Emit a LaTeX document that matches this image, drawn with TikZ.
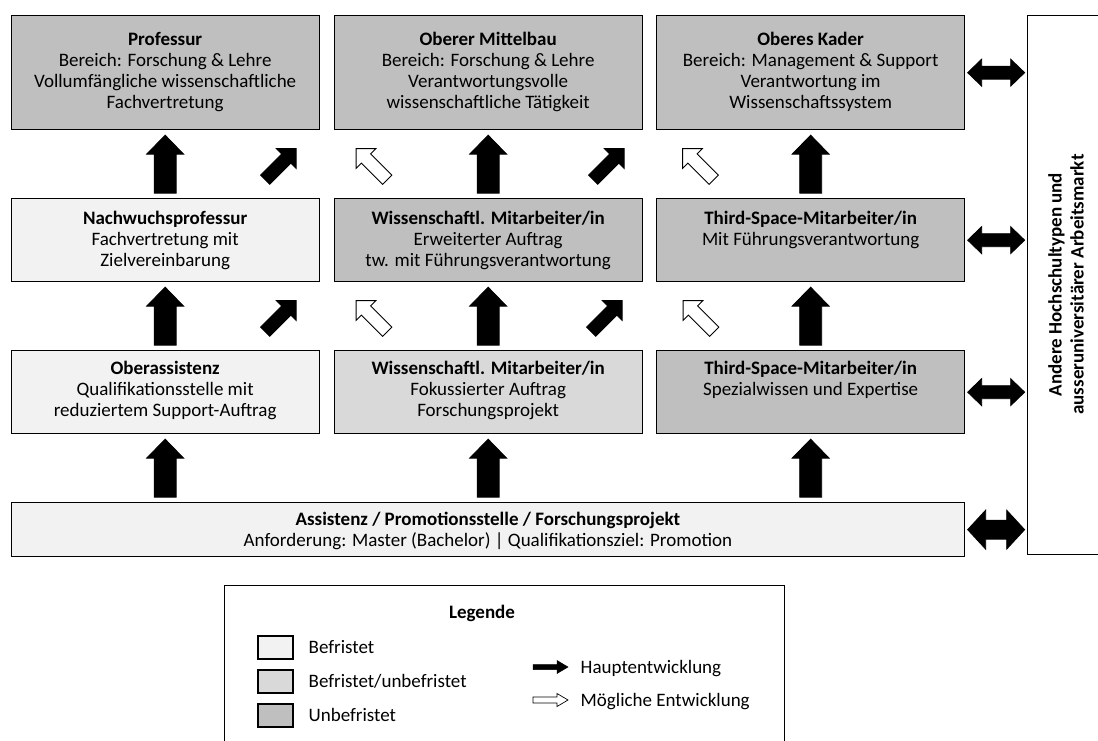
\documentclass[tikz,border=0pt]{standalone}
\usepackage{fontspec}
\setmainfont{Carlito}
\usetikzlibrary{calc}

\definecolor{fixterm}{HTML}{F2F2F2}
\definecolor{mixterm}{HTML}{D9D9D9}
\definecolor{openterm}{HTML}{BFBFBF}

\tikzset{
  box/.style={draw=black, line width=1.3pt, anchor=north west, inner sep=0pt, minimum width=308pt},
  rowA/.style={minimum height=114pt},
  rowB/.style={minimum height=83pt},
  txt/.style={anchor=north, align=center, inner sep=0pt, execute at begin node=\strut},
  mainarr/.style={draw=black, fill=black, line width=0.8pt, line join=miter},
  optarr/.style={draw=black, fill=white, line width=0.9pt, line join=miter},
  keybox/.style={draw=black, line width=1.2pt, minimum width=35pt, minimum height=23pt, inner sep=0pt},
  keytxt/.style={anchor=base west, inner sep=0pt},
  % arrow pointing right, centred at the origin: length, half shaft, half head, head length
  pics/blockarrow/.style n args={4}{code={%
    \path[pic actions] ({-#1/2},{-#2}) -- ({#1/2-#4},{-#2}) -- ({#1/2-#4},{-#3}) -- ({#1/2},0)
      -- ({#1/2-#4},{#3}) -- ({#1/2-#4},{#2}) -- ({-#1/2},{#2}) -- cycle;}},
  pics/dblarrow/.style n args={4}{code={%
    \path[pic actions] ({-#1/2},0) -- ({-#1/2+#4},{-#3}) -- ({-#1/2+#4},{-#2}) -- ({#1/2-#4},{-#2})
      -- ({#1/2-#4},{-#3}) -- ({#1/2},0) -- ({#1/2-#4},{#3}) -- ({#1/2-#4},{#2})
      -- ({-#1/2+#4},{#2}) -- ({-#1/2+#4},{#3}) -- cycle;}},
}

\begin{document}
\begin{tikzpicture}[x=1pt, y=-1pt, font=\fontsize{19}{21}\selectfont]
\useasboundingbox (0,0) rectangle (1098,740);
\clip (0,0) rectangle (1098,740);

% ---- boxes, top row
\node[box, rowA, fill=openterm] (prof) at (10.5,15) {};
\node[box, rowA, fill=openterm] (omb)  at (333.5,15) {};
\node[box, rowA, fill=openterm] (okad) at (656,15) {};
% ---- middle row
\node[box, rowB, fill=fixterm]  (nwp)  at (10.5,198) {};
\node[box, rowB, fill=openterm] (wmb)  at (333.5,198) {};
\node[box, rowB, fill=openterm] (tsb)  at (656,198) {};
% ---- lower row
\node[box, rowB, fill=fixterm]  (oass) at (10.5,350) {};
\node[box, rowB, fill=mixterm]  (wma)  at (333.5,350) {};
\node[box, rowB, fill=openterm] (tsa)  at (656,350) {};
% ---- entry level
\node[box, fill=fixterm, minimum width=953.5pt, minimum height=54pt] (assi) at (10.5,502) {};
% ---- labour market
\node[box, fill=white, minimum width=100pt, minimum height=539pt] (markt) at (1027,15) {};

% ---- box texts
\node[txt] (prof-t) at ($(prof.north)+(0,17.3)$) {\textbf{Professur}\\Bereich: Forschung \& Lehre\\Vollumfängliche wissenschaftliche\\Fachvertretung};
\node[txt] (omb-t)  at ($(omb.north)+(0,17.3)$)  {\textbf{Oberer Mittelbau}\\Bereich: Forschung \& Lehre\\Verantwortungsvolle\\wissenschaftliche Tätigkeit};
\node[txt] (okad-t) at ($(okad.north)+(0,17.3)$) {\textbf{Oberes Kader}\\Bereich: Management \& Support\\Verantwortung im\\Wissenschaftssystem};
\node[txt] (nwp-t)  at ($(nwp.north)+(0,13)$)  {\textbf{Nachwuchsprofessur}\\Fachvertretung mit\\Zielvereinbarung};
\node[txt] (wmb-t)  at ($(wmb.north)+(0,13)$)  {\textbf{Wissenschaftl. Mitarbeiter/in}\\Erweiterter Auftrag\\tw. mit Führungsverantwortung};
\node[txt] (tsb-t)  at ($(tsb.north)+(0,13)$)  {\textbf{Third-Space-Mitarbeiter/in}\\Mit Führungsverantwortung};
\node[txt] (oass-t) at ($(oass.north)+(0,10.8)$)  {\textbf{Oberassistenz}\\Qualifikationsstelle mit\\reduziertem Support-Auftrag};
\node[txt] (wma-t)  at ($(wma.north)+(0,10.8)$)   {\textbf{Wissenschaftl. Mitarbeiter/in}\\Fokussierter Auftrag\\Forschungsprojekt};
\node[txt] (tsa-t)  at ($(tsa.north)+(0,10.8)$)   {\textbf{Third-Space-Mitarbeiter/in}\\Spezialwissen und Expertise};
\node[txt] (assi-t) at ($(assi.north)+(0,10.3)$)  {\textbf{Assistenz / Promotionsstelle / Forschungsprojekt}\\Anforderung: Master (Bachelor) | Qualifikationsziel: Promotion};
\node[rotate=90, align=center, inner sep=0pt, font=\fontsize{19}{22}\selectfont\bfseries] (markt-t)
  at (1066,284.5) {Andere Hochschultypen und\\ausseruniversitärer Arbeitsmarkt};

% ---- gap centres between the rows
\coordinate (g1a) at ($(prof.south)!.5!(nwp.north)$);
\coordinate (g1b) at ($(omb.south)!.5!(wmb.north)$);
\coordinate (g1c) at ($(okad.south)!.5!(tsb.north)$);
\coordinate (g2a) at ($(nwp.south)!.5!(oass.north)$);
\coordinate (g2b) at ($(wmb.south)!.5!(wma.north)$);
\coordinate (g2c) at ($(tsb.south)!.5!(tsa.north)$);
\coordinate (g3a) at ($(oass.south)!.5!(assi.north -| oass.south)$);
\coordinate (g3b) at ($(wma.south)!.5!(assi.north -| wma.south)$);
\coordinate (g3c) at ($(tsa.south)!.5!(assi.north -| tsa.south)$);

% ---- main development (vertical)
\foreach \g in {g1a,g1b,g1c,g2a,g2b,g2c,g3a,g3b,g3c}
  \pic[mainarr, rotate=90] at (\g) {blockarrow={58}{11}{18.5}{19}};

% ---- diagonal steps
\foreach \g/\dx in {g1a/115.5, g1b/120.5, g2a/115.5, g2b/118.5}
  \pic[mainarr, rotate=45] at ($(\g)+(\dx,0)$) {blockarrow={44}{6.5}{14}{14}};
\foreach \g/\dx in {g1b/-116.5, g1c/-112.5, g2b/-116.5, g2c/-112}
  \pic[optarr, rotate=135] at ($(\g)+(\dx,0)$) {blockarrow={44}{6.5}{14}{14}};

% ---- exchange with the labour market
\foreach \b in {okad,tsb,tsa}
  \pic[mainarr] at ($(\b.east)!.5!(markt.west |- \b.east)$) {dblarrow={57}{6.5}{13.5}{14}};
\pic[mainarr] at ($(assi.east)!.5!(markt.west |- assi.east)$) {dblarrow={57}{9.5}{19.5}{18}};

% ---- legend
\node[box, fill=white, line width=1.2pt, minimum width=560pt, minimum height=190pt] (leg) at (224,585) {};
\node[anchor=base, inner sep=0pt, font=\fontsize{19}{21}\selectfont\bfseries] (leg-t) at (482,618) {Legende};
\node[keybox, fill=fixterm]  (k1) at (275.5,647.5) {};
\node[keybox, fill=mixterm]  (k2) at (275.5,681.5) {};
\node[keybox, fill=openterm] (k3) at (275.5,715.5) {};
\node[keytxt] (k1-t) at ($(k1.center)+(33,5.5)$) {Befristet};
\node[keytxt] (k2-t) at ($(k2.center)+(33,5.5)$) {Befristet/unbefristet};
\node[keytxt] (k3-t) at ($(k3.center)+(33,5.5)$) {Unbefristet};
\coordinate (ka) at (550.5,667);
\coordinate (kb) at (550.5,700);
\pic[mainarr, line width=0.5pt] at (ka) {blockarrow={35}{2.5}{6.5}{11}};
\pic[optarr, line width=0.7pt] at (kb) {blockarrow={35}{3}{6.5}{11}};
\node[keytxt] (ka-t) at ($(ka)+(30,6)$) {Hauptentwicklung};
\node[keytxt] (kb-t) at ($(kb)+(30,6)$) {Mögliche Entwicklung};
\end{tikzpicture}
\end{document}
